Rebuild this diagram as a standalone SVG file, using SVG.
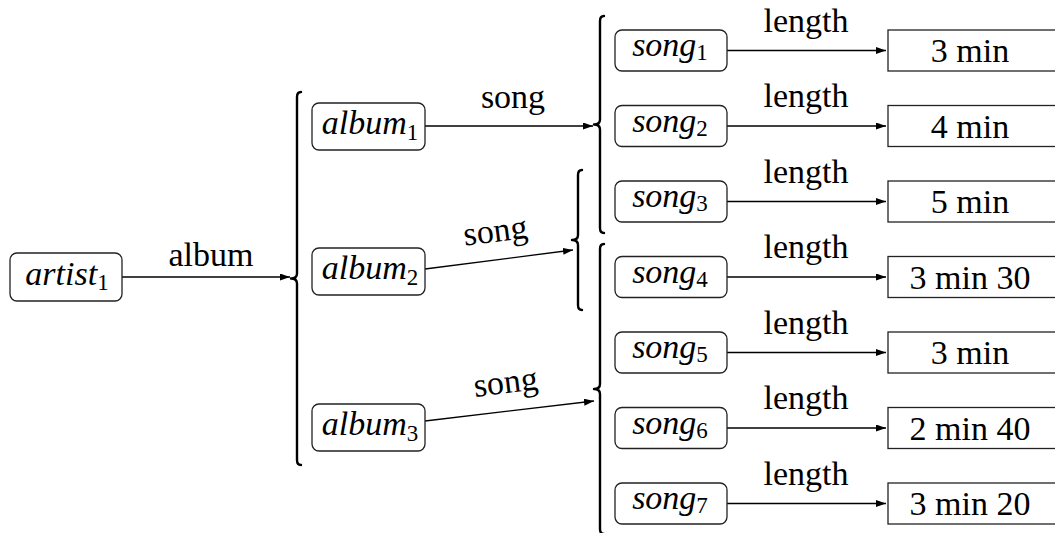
<svg xmlns="http://www.w3.org/2000/svg" width="1055" height="533" viewBox="0 0 1055 533" font-family="'Liberation Serif', 'DejaVu Serif', serif">
  <style>
    .lbl { font-family: 'Liberation Serif', 'DejaVu Serif', serif; font-size: 34px; text-anchor: middle; fill: #000; }
    .math { font-family: 'Liberation Serif', 'DejaVu Serif', serif; font-size: 34px; text-anchor: middle; font-style: italic; fill: #000; }
    .sub { font-size: 23px; font-style: normal; }
    .node { fill: #fff; stroke: #222; stroke-width: 1.3; }
    .val { fill: #fff; stroke: #222; stroke-width: 1.3; }
    .edge { fill: none; stroke: #000; stroke-width: 1.3; marker-end: url(#arrow); }
    .brace { fill: none; stroke: #000; stroke-width: 2.4; stroke-linecap: round; stroke-linejoin: round; }
  </style>
  <defs>
    <marker id="arrow" markerUnits="userSpaceOnUse" markerWidth="10" markerHeight="8" refX="10" refY="3.5" orient="auto">
      <path d="M0,0 L10,3.5 L0,7 Z" fill="#000"/>
    </marker>
  </defs>

  <rect width="1055" height="533" fill="#fff"/>

  <!-- braces -->
  <g id="braces">
    <path class="brace" d="M301,92 Q297,92 297,97 L297,273.5 Q297,278.5 291,278.5 Q297,278.5 297,283.5 L297,460 Q297,465 301,465"/>
    <path class="brace" d="M604,16 Q600,16 600,21 L600,119.5 Q600,124.5 594,124.5 Q600,124.5 600,129.5 L600,228 Q600,233 604,233"/>
    <path class="brace" d="M582,170 Q578,170 578,175 L578,235 Q578,240 572,240 Q578,240 578,245 L578,305 Q578,310 582,310"/>
    <path class="brace" d="M604,244 Q600,244 600,249 L600,384 Q600,389 594,389 Q600,389 600,394 L600,529 Q600,534 604,534"/>
  </g>

  <!-- connectors -->
  <g id="connectors">
    <line class="edge" x1="122" y1="277" x2="290" y2="277"/>
    <text class="lbl" x="211" y="266">album</text>

    <line class="edge" x1="425" y1="126" x2="593" y2="126"/>
    <text class="lbl" x="513" y="108">song</text>

    <line class="edge" x1="425" y1="269" x2="573" y2="250"/>
    <text class="lbl" transform="translate(499,259.5) rotate(-7.3)" x="0" y="-18">song</text>

    <line class="edge" x1="425" y1="421" x2="594" y2="401"/>
    <text class="lbl" transform="translate(509,411) rotate(-6.8)" x="0" y="-18">song</text>

    <line class="edge" x1="727" y1="50.5" x2="886" y2="50.5"/>
    <text class="lbl" x="806" y="31.5">length</text>
    <line class="edge" x1="727" y1="126" x2="886" y2="126"/>
    <text class="lbl" x="806" y="107">length</text>
    <line class="edge" x1="727" y1="201.5" x2="886" y2="201.5"/>
    <text class="lbl" x="806" y="182.5">length</text>
    <line class="edge" x1="727" y1="277" x2="886" y2="277"/>
    <text class="lbl" x="806" y="258">length</text>
    <line class="edge" x1="727" y1="352.5" x2="886" y2="352.5"/>
    <text class="lbl" x="806" y="333.5">length</text>
    <line class="edge" x1="727" y1="428" x2="886" y2="428"/>
    <text class="lbl" x="806" y="409">length</text>
    <line class="edge" x1="727" y1="503.5" x2="886" y2="503.5"/>
    <text class="lbl" x="806" y="484.5">length</text>
  </g>

  <!-- artist -->
  <g id="artist1">
    <rect class="node" x="10" y="253" width="112" height="48" rx="7"/>
    <text class="math" x="67" y="285">artist<tspan class="sub" dy="5">1</tspan></text>
  </g>

  <!-- albums -->
  <g id="album1">
    <rect class="node" x="312" y="103" width="113" height="47" rx="7"/>
    <text class="math" x="370" y="134">album<tspan class="sub" dy="6">1</tspan></text>
  </g>
  <g id="album2">
    <rect class="node" x="312" y="248" width="113" height="47" rx="7"/>
    <text class="math" x="370" y="279">album<tspan class="sub" dy="6">2</tspan></text>
  </g>
  <g id="album3">
    <rect class="node" x="312" y="404" width="113" height="47" rx="7"/>
    <text class="math" x="370" y="435">album<tspan class="sub" dy="6">3</tspan></text>
  </g>

  <!-- songs -->
  <g id="song1">
    <rect class="node" x="615" y="30" width="112" height="41" rx="7"/>
    <text class="math" x="670" y="56">song<tspan class="sub" dy="4">1</tspan></text>
  </g>
  <g id="song2">
    <rect class="node" x="615" y="105.5" width="112" height="41" rx="7"/>
    <text class="math" x="670" y="131.5">song<tspan class="sub" dy="4">2</tspan></text>
  </g>
  <g id="song3">
    <rect class="node" x="615" y="181" width="112" height="41" rx="7"/>
    <text class="math" x="670" y="207">song<tspan class="sub" dy="4">3</tspan></text>
  </g>
  <g id="song4">
    <rect class="node" x="615" y="256.5" width="112" height="41" rx="7"/>
    <text class="math" x="670" y="282.5">song<tspan class="sub" dy="4">4</tspan></text>
  </g>
  <g id="song5">
    <rect class="node" x="615" y="332" width="112" height="41" rx="7"/>
    <text class="math" x="670" y="358">song<tspan class="sub" dy="4">5</tspan></text>
  </g>
  <g id="song6">
    <rect class="node" x="615" y="407.5" width="112" height="41" rx="7"/>
    <text class="math" x="670" y="433.5">song<tspan class="sub" dy="4">6</tspan></text>
  </g>
  <g id="song7">
    <rect class="node" x="615" y="483" width="112" height="41" rx="7"/>
    <text class="math" x="670" y="509">song<tspan class="sub" dy="4">7</tspan></text>
  </g>

  <!-- lengths -->
  <g id="len1">
    <rect class="val" x="888" y="30" width="180" height="41"/>
    <text class="lbl" x="970" y="62">3 min</text>
  </g>
  <g id="len2">
    <rect class="val" x="888" y="105.5" width="180" height="41"/>
    <text class="lbl" x="970" y="137.5">4 min</text>
  </g>
  <g id="len3">
    <rect class="val" x="888" y="181" width="180" height="41"/>
    <text class="lbl" x="970" y="213">5 min</text>
  </g>
  <g id="len4">
    <rect class="val" x="888" y="256.5" width="180" height="41"/>
    <text class="lbl" x="970" y="288.5">3 min 30</text>
  </g>
  <g id="len5">
    <rect class="val" x="888" y="332" width="180" height="41"/>
    <text class="lbl" x="970" y="364">3 min</text>
  </g>
  <g id="len6">
    <rect class="val" x="888" y="407.5" width="180" height="41"/>
    <text class="lbl" x="970" y="439.5">2 min 40</text>
  </g>
  <g id="len7">
    <rect class="val" x="888" y="483" width="180" height="41"/>
    <text class="lbl" x="970" y="515">3 min 20</text>
  </g>
</svg>
